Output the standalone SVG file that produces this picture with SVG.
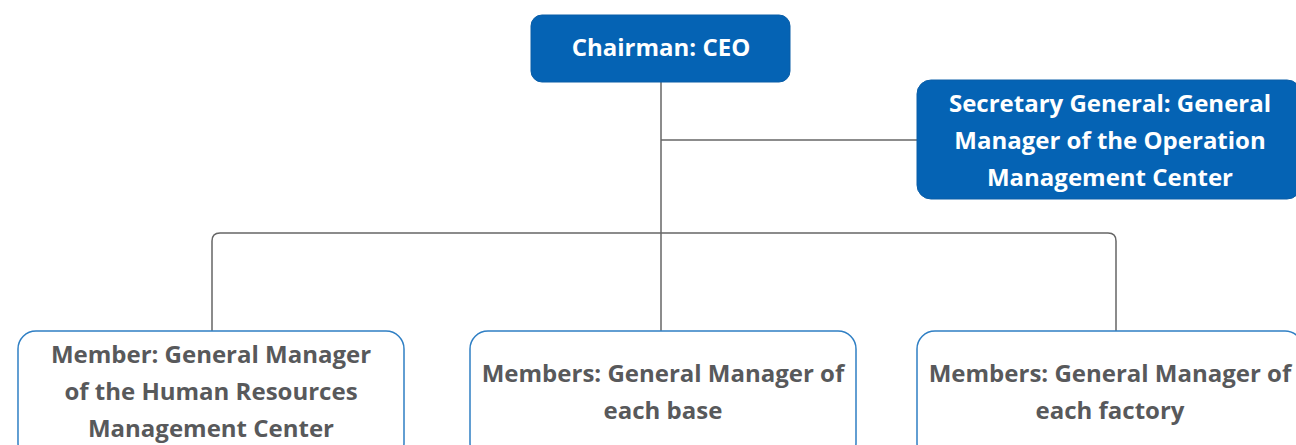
<svg xmlns="http://www.w3.org/2000/svg" width="1296" height="445" viewBox="0 0 1296 445">
<style>
.lead rect{fill:#0563b4;stroke:#0a5ea8;stroke-width:1}
.lead text{fill:#ffffff}
.mem rect{fill:#ffffff;stroke:#2f7fc4;stroke-width:1.5}
.mem text{fill:#58595b}
text{font-family:"Open Sans","Noto Sans",sans-serif;font-weight:700;font-size:24px;text-anchor:middle}
.conn path{fill:none;stroke:#666666;stroke-width:1.5}
</style>
<rect width="1296" height="445" fill="#ffffff"/>
<g class="conn" id="connectors">
<path d="M661 82 V331"/>
<path d="M661 140 H917"/>
<path d="M212 331 V241 Q212 233 220 233 H1108 Q1116 233 1116 241 V331"/>
</g>
<g id="chairman" class="lead">
<rect x="531" y="15" width="259" height="67" rx="11"/>
<text x="661" y="56">Chairman: CEO</text>
</g>
<g id="secretary" class="lead">
<rect x="917" y="80" width="384" height="119" rx="14"/>
<text x="1110" y="112">Secretary General: General</text>
<text x="1110" y="149">Manager of the Operation</text>
<text x="1110" y="186">Management Center</text>
</g>
<g id="member-hr" class="mem">
<rect x="18" y="331" width="386" height="130" rx="18"/>
<text x="211" y="363">Member: General Manager</text>
<text x="211" y="400">of the Human Resources</text>
<text x="211" y="437">Management Center</text>
</g>
<g id="member-base" class="mem">
<rect x="470" y="331" width="386" height="130" rx="18"/>
<text x="663" y="382">Members: General Manager of</text>
<text x="663" y="419">each base</text>
</g>
<g id="member-factory" class="mem">
<rect x="917" y="331" width="386" height="130" rx="18"/>
<text x="1110" y="382">Members: General Manager of</text>
<text x="1110" y="419">each factory</text>
</g>
</svg>
